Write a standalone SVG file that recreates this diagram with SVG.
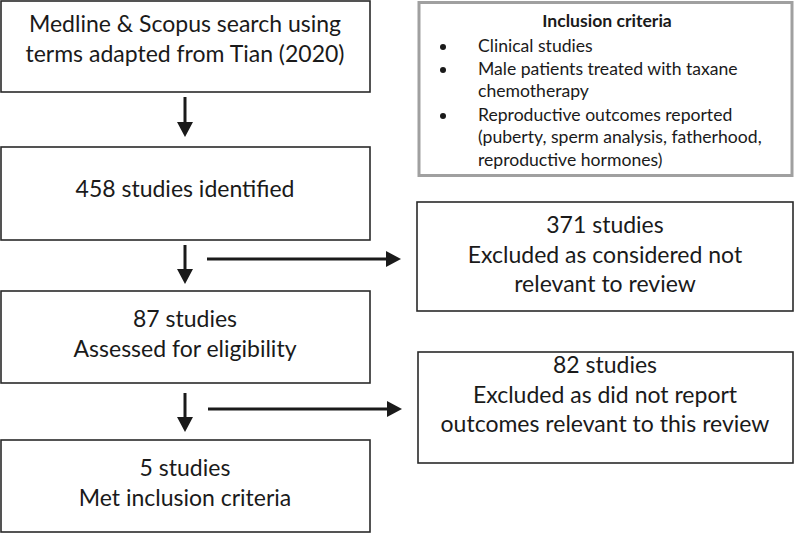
<svg xmlns="http://www.w3.org/2000/svg" width="796" height="533" viewBox="0 0 796 533">
<style>
.box{fill:#fff;stroke:#2a2a2a;stroke-width:1.6}
.gbox{fill:#fff;stroke:#a0a0a0;stroke-width:3}
.t{font-family:Lato,"Open Sans",sans-serif;font-size:23px;fill:#1a1a1a;text-anchor:middle}
.s{font-family:Lato,"Open Sans",sans-serif;font-size:17.6px;fill:#1a1a1a}
.b{font-weight:bold;text-anchor:middle}
.ln{stroke:#1a1a1a;stroke-width:3;fill:none}
.hd{fill:#1a1a1a}
</style>
<rect width="796" height="533" fill="#fff"/>
<g id="n_search">
<rect class="box" x="1" y="1" width="369" height="91"/>
<text class="t" x="185" y="32">Medline &amp; Scopus search using</text>
<text class="t" x="185" y="62">terms adapted from Tian (2020)</text>
</g>
<g id="n_criteria">
<rect class="gbox" x="419" y="2.5" width="373" height="173"/>
<text class="s b" x="607" y="27">Inclusion criteria</text>
<circle cx="443" cy="47" r="3" fill="#1a1a1a"/>
<circle cx="443" cy="70" r="3" fill="#1a1a1a"/>
<circle cx="443" cy="116" r="3" fill="#1a1a1a"/>
<text class="s" x="478" y="52">Clinical studies</text>
<text class="s" x="478" y="75">Male patients treated with taxane</text>
<text class="s" x="478" y="97">chemotherapy</text>
<text class="s" x="478" y="121">Reproductive outcomes reported</text>
<text class="s" x="478" y="143">(puberty, sperm analysis, fatherhood,</text>
<text class="s" x="478" y="166">reproductive hormones)</text>
</g>
<g id="n_identified">
<rect class="box" x="1" y="147" width="369" height="93"/>
<text class="t" x="185" y="197">458 studies identified</text>
</g>
<g id="n_excl1">
<rect class="box" x="417" y="202" width="376" height="109"/>
<text class="t" x="605" y="233">371 studies</text>
<text class="t" x="605" y="263">Excluded as considered not</text>
<text class="t" x="605" y="292">relevant to review</text>
</g>
<g id="n_assessed">
<rect class="box" x="1" y="291" width="369" height="92"/>
<text class="t" x="185" y="327">87 studies</text>
<text class="t" x="185" y="357">Assessed for eligibility</text>
</g>
<g id="n_excl2">
<rect class="box" x="418" y="352" width="375" height="111"/>
<text class="t" x="605" y="373">82 studies</text>
<text class="t" x="605" y="403">Excluded as did not report</text>
<text class="t" x="605" y="432">outcomes relevant to this review</text>
</g>
<g id="n_included">
<rect class="box" x="1" y="440" width="369" height="92"/>
<text class="t" x="185" y="476">5 studies</text>
<text class="t" x="185" y="506">Met inclusion criteria</text>
</g>
<g id="connectors">
<line class="ln" x1="185" y1="97" x2="185" y2="123"/>
<polygon class="hd" points="177,122 193,122 185,137"/>
<line class="ln" x1="185" y1="245" x2="185" y2="270"/>
<polygon class="hd" points="177,269 193,269 185,284"/>
<line class="ln" x1="185" y1="393" x2="185" y2="418"/>
<polygon class="hd" points="177,417 193,417 185,432"/>
<line class="ln" x1="207" y1="259" x2="388" y2="259"/>
<polygon class="hd" points="386,251 386,267 401,259"/>
<line class="ln" x1="208" y1="409" x2="389" y2="409"/>
<polygon class="hd" points="387,401 387,417 402,409"/>
</g>
</svg>
